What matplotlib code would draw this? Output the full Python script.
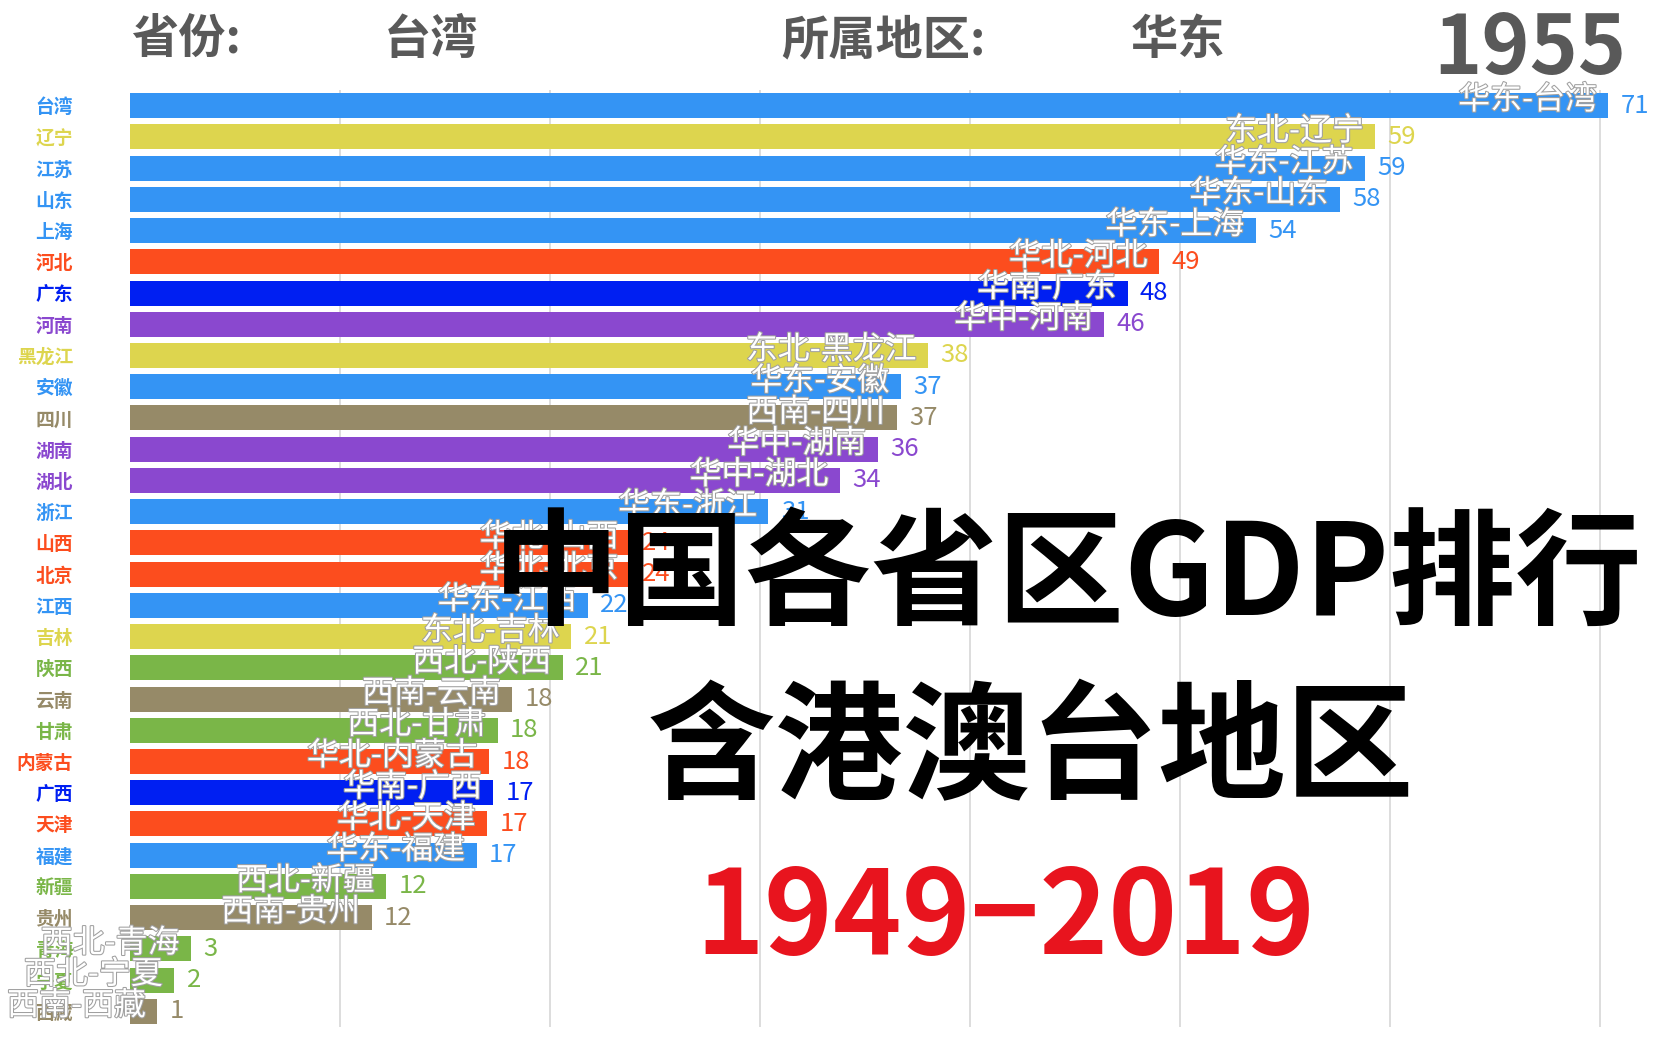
import matplotlib
matplotlib.use("Agg")
import matplotlib.pyplot as plt
import matplotlib.patheffects as pe

plt.rcParams['font.family'] = ['Noto Sans CJK SC', 'DejaVu Sans']

# data (frame: 1955)
provinces = ['台湾', '辽宁', '江苏', '山东', '上海', '河北', '广东', '河南', '黑龙江', '安徽',
             '四川', '湖南', '湖北', '浙江', '山西', '北京', '江西', '吉林', '陕西', '云南',
             '甘肃', '内蒙古', '广西', '天津', '福建', '新疆', '贵州', '青海', '宁夏', '西藏']
regions = ['华东', '东北', '华东', '华东', '华东', '华北', '华南', '华中', '东北', '华东',
           '西南', '华中', '华中', '华东', '华北', '华北', '华东', '东北', '西北', '西南',
           '西北', '华北', '华南', '华北', '华东', '西北', '西南', '西北', '西北', '西南']
bar_values = [70.4, 59.3, 58.8, 57.6, 53.6, 49.0, 47.5, 46.4, 38.0, 36.7,
              36.5, 35.6, 33.8, 30.4, 23.8, 23.8, 21.8, 21.0, 20.6, 18.2,
              17.5, 17.1, 17.3, 17.0, 16.5, 12.2, 11.5, 2.9, 2.1, 1.3]
value_labels = ['71', '59', '59', '58', '54', '49', '48', '46', '38', '37',
                '37', '36', '34', '31', '24', '24', '22', '21', '21', '18',
                '18', '18', '17', '17', '17', '12', '12', '3', '2', '1']

region_names = ['华东', '东北', '华北', '华南', '华中', '西南', '西北']
region_colors = ['#3494f4', '#ddd54e', '#fc4d1e', '#001ff2', '#8a48cf', '#968a68', '#7ab648']
cmap = dict(zip(region_names, region_colors))
colors = [cmap[r] for r in regions]

W, H = 1661, 1038
fig = plt.figure(figsize=(W / 100, H / 100), dpi=100)

# axes: bars start at x=130px, rows from y=90 to y=1027
ax = fig.add_axes([130 / W, 1 - 1027 / H, (W - 130) / W, 937 / H])
ax.barh(range(len(provinces)), bar_values, height=0.8, color=colors, zorder=2)
ax.set_ylim(len(provinces) - 0.5, -0.5)
ax.set_xlim(0, (W - 130) / 21)

ax.set_xticks(range(10, 71, 10))
ax.grid(axis='x', color='#dadada', lw=1.3, zorder=0)
ax.set_axisbelow(True)
ax.tick_params(axis='x', length=0, labelbottom=False)
for s in ax.spines.values():
    s.set_visible(False)

ax.set_yticks(range(len(provinces)))
ax.set_yticklabels(provinces, fontsize=13.5, fontweight='bold')
ax.tick_params(axis='y', length=0, pad=41)
for lab, c in zip(ax.get_yticklabels(), colors):
    lab.set_color(c)

# labels inside bars and values
for i, (v, p, r, c, t) in enumerate(zip(bar_values, provinces, regions, colors, value_labels)):
    ax.annotate(f'{r}-{p}', xy=(v, i), xytext=(-8, 4), textcoords='offset points',
                ha='right', va='center', color='white', fontsize=23,
                path_effects=[pe.withStroke(linewidth=1.5, foreground='#a0a0a0')],
                annotation_clip=False, zorder=3)
    ax.annotate(t, xy=(v, i), xytext=(9, 0), textcoords='offset points',
                ha='left', va='center', color=c, fontsize=18.5, annotation_clip=False, zorder=3)

# header
hdr = dict(fontsize=34, fontweight='bold', color='#595959', va='center')
fig.text(131 / W, 1 - 40 / H, '省份:', **hdr)
fig.text(384 / W, 1 - 40 / H, '台湾', **hdr)
fig.text(781 / W, 1 - 40 / H, '所属地区:', **hdr)
fig.text(1131 / W, 1 - 40 / H, '华东', **hdr)
fig.text(1626 / W, 1 - 50 / H, '1955', fontsize=59, fontweight='bold', color='#595959',
         ha='right', va='center')

# overlay title
fig.text(1068 / W, 1 - 578 / H, '中国各省区GDP排行', fontsize=91, fontweight='bold',
         color='black', ha='center', va='center', zorder=10)
fig.text(1031 / W, 1 - 752 / H, '含港澳台地区', fontsize=92, fontweight='bold',
         color='black', ha='center', va='center', zorder=10)
fig.text(1005 / W, 1 - 920 / H, '1949−2019', fontsize=84, fontweight='bold',
         color='#e8141e', ha='center', va='center', zorder=10)

fig.savefig('out.png', dpi=100)
